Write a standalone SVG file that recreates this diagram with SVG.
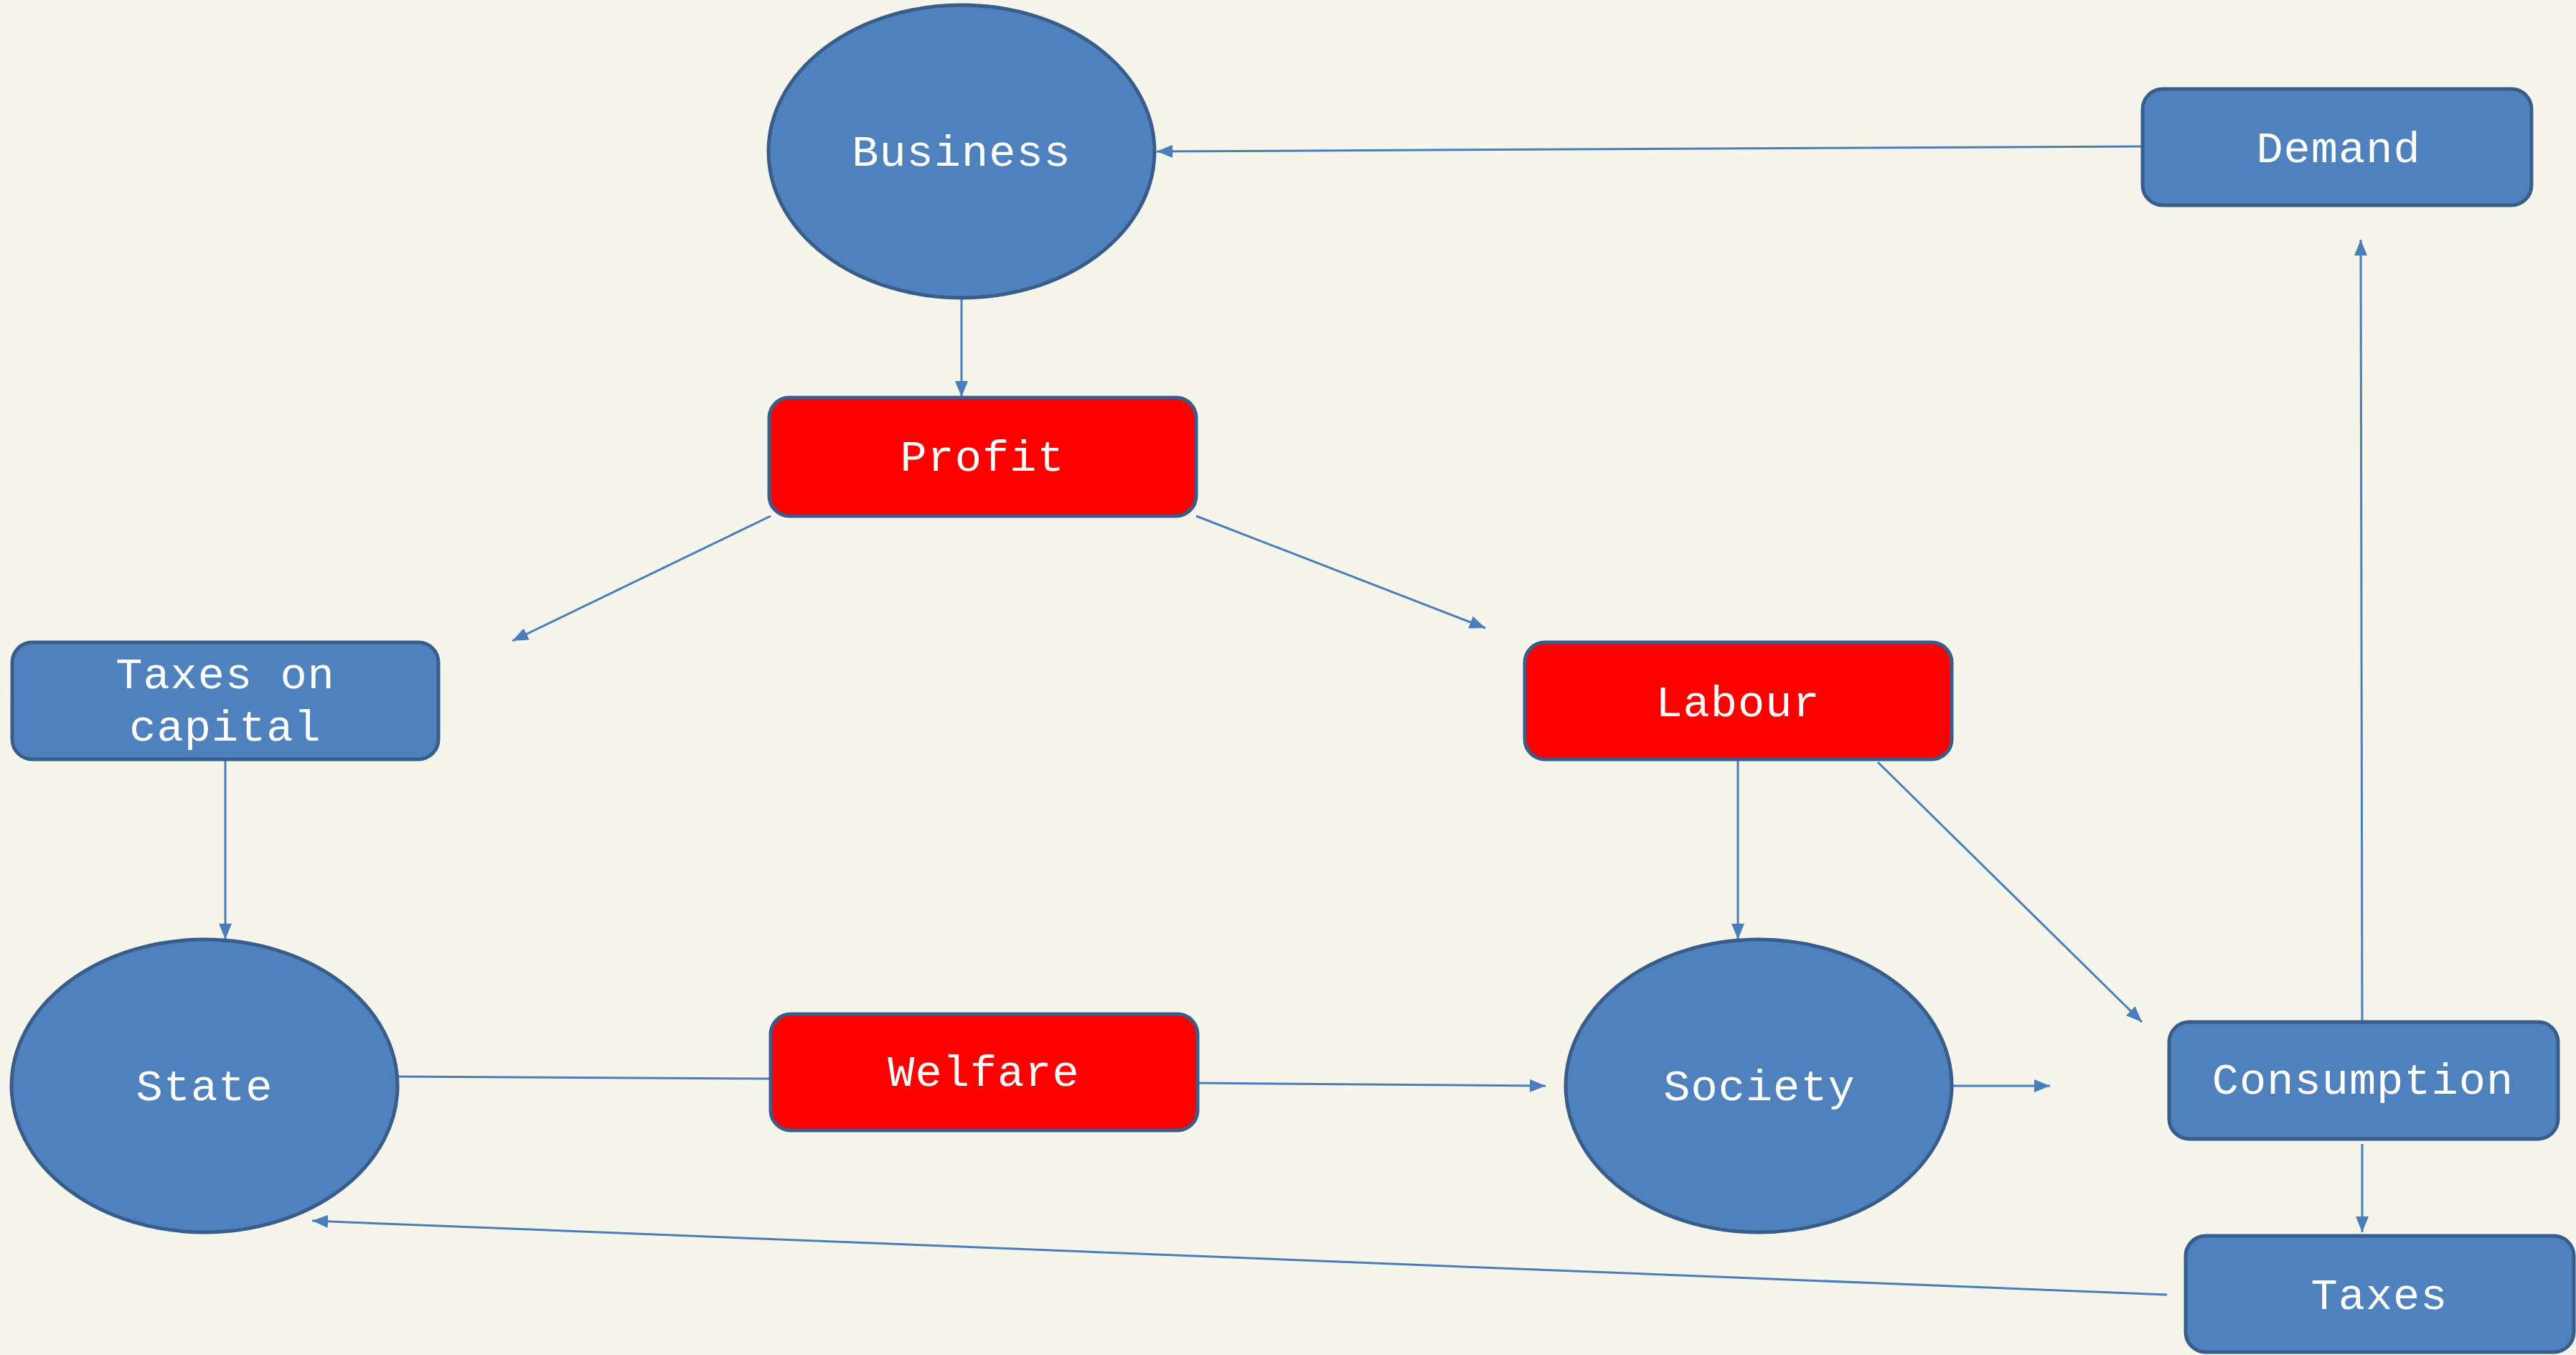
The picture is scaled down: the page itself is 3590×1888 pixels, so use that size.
<svg xmlns="http://www.w3.org/2000/svg" width="3590" height="1888" viewBox="0 0 3590 1888">
<style>
.blue{fill:#4F81BD;stroke:#385D8A;stroke-width:5}
.red{fill:#FF0000;stroke:#385D8A;stroke-width:5}
.lbl{font-family:"Liberation Mono","Courier New",monospace;font-size:62px;fill:#FFFFFF;text-anchor:middle;dominant-baseline:central;letter-spacing:1px}
.con{stroke:#4A7EBB;stroke-width:3;fill:none;marker-end:url(#ah)}
.con2{stroke:#4A7EBB;stroke-width:3;fill:none}
</style>
<defs>
<marker id="ah" markerUnits="userSpaceOnUse" markerWidth="24" markerHeight="18" refX="22" refY="9" orient="auto">
<path d="M0,0 L22,9 L0,18 Z" fill="#4A7EBB"/>
</marker>
</defs>
<rect width="3590" height="1888" fill="#F5F5EC"/>
<g id="connectors">
<line class="con" x1="1340" y1="415" x2="1340" y2="553"/>
<line class="con" x1="2985" y1="204" x2="1612" y2="211"/>
<line class="con" x1="1074" y1="719" x2="714" y2="893"/>
<line class="con" x1="1667" y1="719" x2="2070" y2="875"/>
<line class="con" x1="314" y1="1060" x2="314" y2="1309"/>
<line class="con" x1="2422" y1="1060" x2="2422" y2="1309"/>
<line class="con" x1="2617" y1="1062" x2="2985" y2="1424"/>
<line class="con" x1="3292" y1="1422" x2="3290" y2="334"/>
<line class="con" x1="3292" y1="1594" x2="3292" y2="1717"/>
<line class="con" x1="3020" y1="1804" x2="435" y2="1701"/>
<line class="con2" x1="554" y1="1500" x2="1074" y2="1503"/>
<line class="con" x1="1670" y1="1509" x2="2154" y2="1513"/>
<line class="con" x1="2720" y1="1513" x2="2857" y2="1513"/>
</g>
<g id="business">
<ellipse class="blue" cx="1340" cy="211" rx="269" ry="204"/>
<text class="lbl" x="1340" y="214">Business</text>
</g>
<g id="demand">
<rect class="blue" x="2986" y="124" width="542" height="162" rx="28"/>
<text class="lbl" x="3259" y="209">Demand</text>
</g>
<g id="profit">
<rect class="red" x="1072" y="554" width="595" height="165" rx="28"/>
<text class="lbl" x="1369" y="639">Profit</text>
</g>
<g id="taxes-on-capital">
<rect class="blue" x="17" y="895" width="594" height="163" rx="28"/>
<text class="lbl" x="314" y="942">Taxes on</text>
<text class="lbl" x="314" y="1015">capital</text>
</g>
<g id="labour">
<rect class="red" x="2125" y="895" width="595" height="163" rx="28"/>
<text class="lbl" x="2422" y="981">Labour</text>
</g>
<g id="state">
<ellipse class="blue" cx="285" cy="1513" rx="269" ry="204"/>
<text class="lbl" x="285" y="1516">State</text>
</g>
<g id="welfare">
<rect class="red" x="1074" y="1413" width="595" height="162" rx="28"/>
<text class="lbl" x="1371" y="1496">Welfare</text>
</g>
<g id="society">
<ellipse class="blue" cx="2451" cy="1513" rx="269" ry="204"/>
<text class="lbl" x="2452" y="1516">Society</text>
</g>
<g id="consumption">
<rect class="blue" x="3023" y="1424" width="542" height="163" rx="28"/>
<text class="lbl" x="3293" y="1507">Consumption</text>
</g>
<g id="taxes">
<rect class="blue" x="3046" y="1722" width="541" height="162" rx="28"/>
<text class="lbl" x="3316" y="1807">Taxes</text>
</g>
</svg>
